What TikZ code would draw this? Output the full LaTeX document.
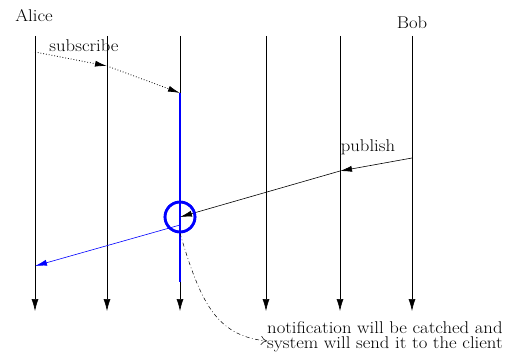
\documentclass[tikz,border=0pt]{standalone}
\usepackage{fontspec}
\setmainfont{Latin Modern Roman}[FakeStretch=1.1]
\usepackage{tikz}
\usetikzlibrary{positioning,arrows,arrows.meta,calc}
\tikzset{
  >=latex,
  every node/.style={font=\fontsize{17}{15.5}\selectfont},
  % --- nodes
  who/.style   = {inner sep=0pt},
  lbl/.style   = {inner sep=0pt},
  note/.style  = {inner sep=0pt, align=left, anchor=north west},
  catch/.style = {circle, draw=blue, line width=2.6pt, minimum size=30pt, inner sep=0pt},
  % --- edges
  lane/.style  = {-{Latex[length=12pt,width=7pt]}, line width=0.6pt},
  sub/.style   = {-{Latex[length=12pt,width=6pt]}, dotted, line width=0.8pt},
  pub/.style   = {-{Latex[length=12pt,width=6pt]}, line width=0.6pt},
  fwd/.style   = {-{Latex[length=12pt,width=6pt]}, draw=blue, line width=0.6pt},
  live/.style  = {draw=blue, line width=2.8pt},
  hint/.style  = {-{To[length=6pt,width=9pt]}, line width=0.5pt,
                  dash pattern=on 4pt off 2.5pt on 0.8pt off 2.5pt},
}
\begin{document}
\begin{tikzpicture}[x=1pt,y=-1pt]
  \useasboundingbox (0,0) rectangle (507,353);
  \foreach \i/\x in {1/35,2/107,3/180,4/266,5/340,6/412} {
    \coordinate (t\i) at (\x,36); \coordinate (b\i) at (\x,311);
    \draw[lane] (t\i) -- (b\i);
  }
  \node[who] (alice) at (34,16) {Alice};
  \node[who] (bob) at (412,23) {Bob};
  % subscribe
  \coordinate (s0) at (35,52); \coordinate (s1) at (107,66); \coordinate (s2) at (180,93);
  \draw[sub] (s0) -- (s1); \draw[sub] (s1) -- (s2);
  \node[lbl] (subl) at (84,46) {subscribe};
  % alive part of the broker
  \coordinate (k1) at (180,282);
  \draw[live] (s2) -- (k1);
  % publish
  \coordinate (p0) at (412,158); \coordinate (p1) at (340,171);
  \node[catch] (hit) at (180,217) {};
  \draw[pub] (p0) -- (p1); \draw[pub] (p1) -- (hit.center);
  \node[lbl] (publ) at (368,147) {publish};
  % forward to client
  \coordinate (n0) at (180,225); \coordinate (n1) at (35,266);
  \draw[fwd] (n0) -- (n1);
  \node[catch] at (hit) {};
  % note
  \node[note] (txt) at (267,321) {notification will be catched and\\system will send it to the client};
  \draw[hint] (hit.south) .. controls (200,300) and (215,336) .. (txt.west |- 0,341);
\end{tikzpicture}
\end{document}
